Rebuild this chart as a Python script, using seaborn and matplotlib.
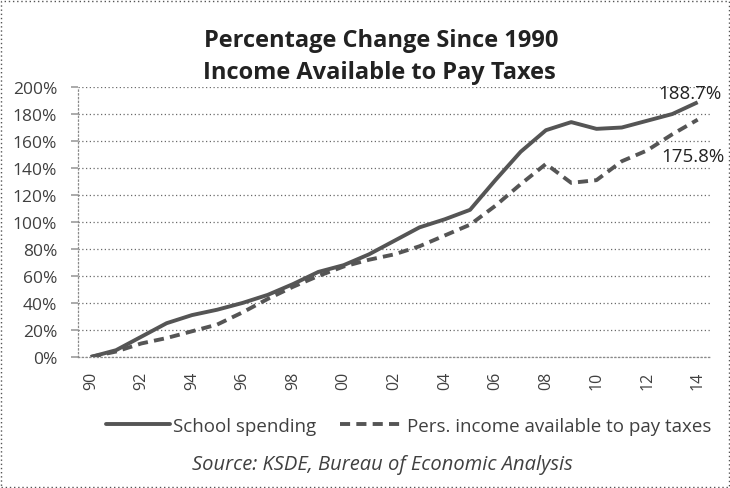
import matplotlib
matplotlib.use("Agg")
import matplotlib.pyplot as plt
import seaborn as sns
import pandas as pd
from matplotlib.patches import Rectangle

years = list(range(1990, 2015))
school_spending = [0, 5, 15, 25, 31, 35, 40, 46, 54, 63, 68, 76, 86, 96, 102,
                   109, 131, 152, 168, 174, 169, 170, 175, 180, 188.7]
pers_income = [0, 4, 10, 14, 19, 24, 33, 43, 52, 60, 67, 72, 76, 82, 90,
               98, 112, 128, 143, 129, 131, 145, 153, 165, 175.8]
year_labels = [f"{y % 100:02d}" for y in years[::2]]
y_ticks = list(range(0, 201, 20))

title_lines = ["Percentage Change Since 1990", "Income Available to Pay Taxes"]
series_names = ["School spending", "Pers. income available to pay taxes"]
source_note = "Source: KSDE, Bureau of Economic Analysis"

sns.set_theme(style="white")
plt.rcParams["font.family"] = ["Open Sans", "DejaVu Sans"]

df = pd.DataFrame({
    "pos": list(range(len(years))) * 2,
    "value": school_spending + pers_income,
    "series": [series_names[0]] * len(years) + [series_names[1]] * len(years),
})

fig = plt.figure(figsize=(7.3, 4.89), dpi=100)
ax = fig.add_axes([0.107, 0.268, 0.866, 0.552])

line_color = "#555555"
dash_pattern = (2.6, 1.6)
sns.lineplot(data=df, x="pos", y="value", hue="series", style="series",
             palette=[line_color, line_color],
             dashes=[(1, 0), dash_pattern], linewidth=2.8, ax=ax, legend=False)

ax.set_xlim(-0.5, len(years) - 0.5)
ax.set_ylim(0, 200)
ax.set_yticks(y_ticks)
ax.set_yticklabels([f"{v}%" for v in y_ticks])
ax.set_xticks(list(range(0, len(years), 2)))
ax.set_xticklabels(year_labels, rotation=90)
ax.set_xticks([i - 0.5 for i in range(len(years) + 1)], minor=True)
ax.tick_params(axis="x", which="major", length=0, pad=10, labelsize=11.5,
               labelcolor="#404040")
ax.tick_params(axis="x", which="minor", length=4, color="#a0a0a0", direction="out")
ax.tick_params(axis="y", length=5, color="#a0a0a0", direction="out", pad=10,
               labelsize=12.5, labelcolor="#404040", left=True)
ax.set_xlabel("")
ax.set_ylabel("")

ax.grid(axis="y", linestyle=(0, (1, 2)), color="#6a6a6a", linewidth=0.9)
ax.set_axisbelow(True)
for side in ["top", "right"]:
    ax.spines[side].set_visible(False)
for side in ["left", "bottom"]:
    ax.spines[side].set_linestyle((0, (1, 2)))
    ax.spines[side].set_color("#8a8a8a")
    ax.spines[side].set_linewidth(0.9)

ax.annotate(f"{school_spending[-1]:.1f}%", xy=(len(years) - 1, school_spending[-1]),
            xytext=(24, 0), textcoords="offset pixels", ha="right", va="bottom",
            fontsize=13.5, color="#222222")
ax.annotate(f"{pers_income[-1]:.1f}%", xy=(len(years) - 1, pers_income[-1]),
            xytext=(27, -36), textcoords="offset pixels", ha="right", va="center",
            fontsize=13.5, color="#222222")

fig.text(0.522, 0.916, title_lines[0], ha="center", va="center",
         fontsize=17, fontweight="bold", color="#222222")
fig.text(0.52, 0.851, title_lines[1], ha="center", va="center",
         fontsize=17, fontweight="bold", color="#222222")

handles = [
    plt.Line2D([], [], color=line_color, lw=2.8),
    plt.Line2D([], [], color=line_color, lw=2.8, dashes=dash_pattern),
]
fig.legend(handles, series_names, loc="center", bbox_to_anchor=(0.56, 0.127),
           ncol=2, frameon=False, fontsize=13.5, handlelength=3.4,
           handletextpad=0.15, columnspacing=1.3, labelcolor="#404040")

fig.text(0.524, 0.049, source_note, ha="center", va="center", fontsize=14.5,
         fontstyle="italic", color="#404040")

fig.patches.append(Rectangle((0.002, 0.002), 0.996, 0.994, transform=fig.transFigure,
                             fill=False, linestyle=(0, (1, 2)), edgecolor="#555555",
                             linewidth=1.0))

fig.savefig("out.png", dpi=100)
